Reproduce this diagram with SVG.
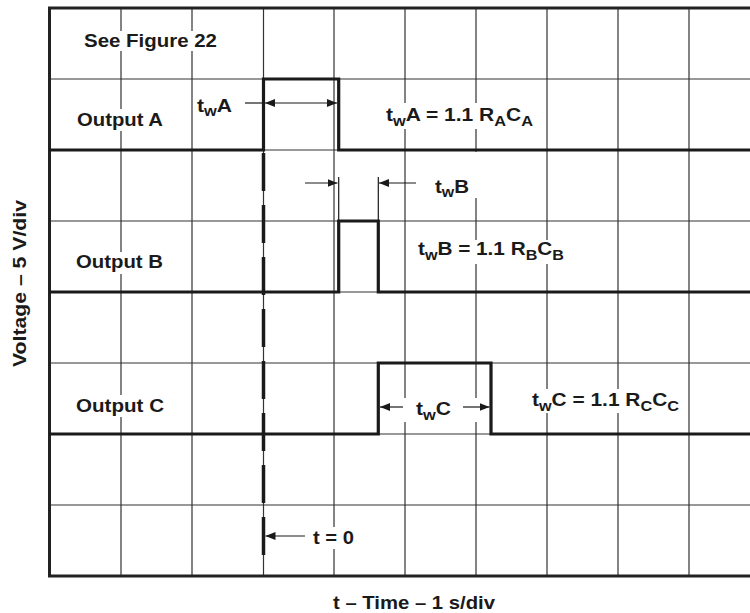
<svg xmlns="http://www.w3.org/2000/svg" width="750" height="613" viewBox="0 0 750 613">
<style>
.grid{stroke:#333;stroke-width:1.2;fill:none}
.frame{stroke:#222;stroke-width:3;fill:none}
.wave{stroke:#1a1a1a;stroke-width:3.2;fill:none;stroke-linejoin:miter}
.dash{stroke:#1a1a1a;stroke-width:3.5;fill:none;stroke-dasharray:38 14}
.conn{stroke:#1a1a1a;stroke-width:1.2;fill:none}
.lbl{font-family:"Liberation Sans",Arial,sans-serif;font-weight:bold;font-size:18px;fill:#1a1a1a}
.sub{font-size:14px}
.bg{fill:#fff}
</style>
<defs>
<marker id="ah" viewBox="0 0 10 8" refX="10" refY="4" markerWidth="10" markerHeight="8" markerUnits="userSpaceOnUse" orient="auto-start-reverse">
<path d="M0,0 L10,4 L0,8 Z" fill="#1a1a1a"/>
</marker>
</defs>
<rect width="750" height="613" fill="#fff"/>
<g id="grid">
<path class="grid" d="M121,8V576M192,8V576M263.5,8V576M334,8V576M405,8V576M476,8V576M547,8V576M618,8V576M689,8V576"/>
<path class="grid" d="M49.5,79H750M49.5,150H750M49.5,221H750M49.5,292H750M49.5,363H750M49.5,434H750M49.5,505H750"/>
<path class="frame" d="M750,8H49.5V576H750"/>
</g>
<g id="text-backgrounds">
<rect class="bg" x="82" y="31" width="138" height="20"/>
<rect class="bg" x="74" y="109" width="93" height="22"/>
<rect class="bg" x="194" y="97" width="51" height="22"/>
<rect class="bg" x="383" y="103" width="153" height="26"/>
<rect class="bg" x="418" y="152" width="60" height="46"/>
<rect class="bg" x="415" y="240" width="152" height="24"/>
<rect class="bg" x="73" y="252" width="94" height="22"/>
<rect class="bg" x="73" y="395" width="95" height="22"/>
<rect class="bg" x="403" y="398" width="75" height="24"/>
<rect class="bg" x="529" y="389" width="153" height="24"/>
<rect class="bg" x="305" y="527" width="52" height="22"/>
</g>
<g id="waveforms">
<path id="wave-a" class="wave" d="M49.5,150H263.5V79H338.7V150H750"/>
<path id="wave-b" class="wave" d="M49.5,292H338.7V221H378.3V292H750"/>
<path id="wave-c" class="wave" d="M49.5,434H378.3V363H491V434H750"/>
<path id="t0-line" class="dash" d="M263.5,153V555"/>
</g>
<g id="connectors">
<path class="conn" d="M245,103H265"/>
<path class="conn" d="M265,103H337" marker-start="url(#ah)" marker-end="url(#ah)"/>
<path class="conn" d="M338.7,177V221M378.3,177V221"/>
<path class="conn" d="M305,183H337.5" marker-end="url(#ah)"/>
<path class="conn" d="M416,183H379" marker-end="url(#ah)"/>
<path class="conn" d="M403,407H380" marker-end="url(#ah)"/>
<path class="conn" d="M463,407H489.5" marker-end="url(#ah)"/>
<path class="conn" d="M305,536H265.5" marker-end="url(#ah)"/>
</g>
<g id="labels">
<text class="lbl" x="84" y="46.5" textLength="133" lengthAdjust="spacingAndGlyphs">See Figure 22</text>
<text class="lbl" x="77" y="125.5" textLength="86" lengthAdjust="spacingAndGlyphs">Output A</text>
<text class="lbl" x="76" y="268.3" textLength="87" lengthAdjust="spacingAndGlyphs">Output B</text>
<text class="lbl" x="76" y="411.7" textLength="88" lengthAdjust="spacingAndGlyphs">Output C</text>
<text class="lbl" x="197" y="111.5" textLength="35" lengthAdjust="spacingAndGlyphs">t<tspan class="sub" dy="4.5">w</tspan><tspan dy="-4.5">A</tspan></text>
<text class="lbl" x="386" y="121" textLength="147" lengthAdjust="spacingAndGlyphs">t<tspan class="sub" dy="4.5">w</tspan><tspan dy="-4.5">A = 1.1 R</tspan><tspan class="sub" dy="4.5">A</tspan><tspan dy="-4.5">C</tspan><tspan class="sub" dy="4.5">A</tspan></text>
<text class="lbl" x="435" y="192.5" textLength="34" lengthAdjust="spacingAndGlyphs">t<tspan class="sub" dy="4.5">w</tspan><tspan dy="-4.5">B</tspan></text>
<text class="lbl" x="418" y="255" textLength="146" lengthAdjust="spacingAndGlyphs">t<tspan class="sub" dy="4.5">w</tspan><tspan dy="-4.5">B = 1.1 R</tspan><tspan class="sub" dy="4.5">B</tspan><tspan dy="-4.5">C</tspan><tspan class="sub" dy="4.5">B</tspan></text>
<text class="lbl" x="416" y="415" textLength="35" lengthAdjust="spacingAndGlyphs">t<tspan class="sub" dy="4.5">w</tspan><tspan dy="-4.5">C</tspan></text>
<text class="lbl" x="532" y="406" textLength="147" lengthAdjust="spacingAndGlyphs">t<tspan class="sub" dy="4.5">w</tspan><tspan dy="-4.5">C = 1.1 R</tspan><tspan class="sub" dy="4.5">C</tspan><tspan dy="-4.5">C</tspan><tspan class="sub" dy="4.5">C</tspan></text>
<text class="lbl" x="313" y="544" textLength="41" lengthAdjust="spacingAndGlyphs">t = 0</text>
<text class="lbl" x="333" y="609" textLength="162" lengthAdjust="spacingAndGlyphs">t – Time – 1 s/div</text>
<text class="lbl" transform="translate(25.5,283.5) rotate(-90)" x="-83.5" y="0" textLength="167" lengthAdjust="spacingAndGlyphs">Voltage – 5 V/div</text>
</g>
</svg>
